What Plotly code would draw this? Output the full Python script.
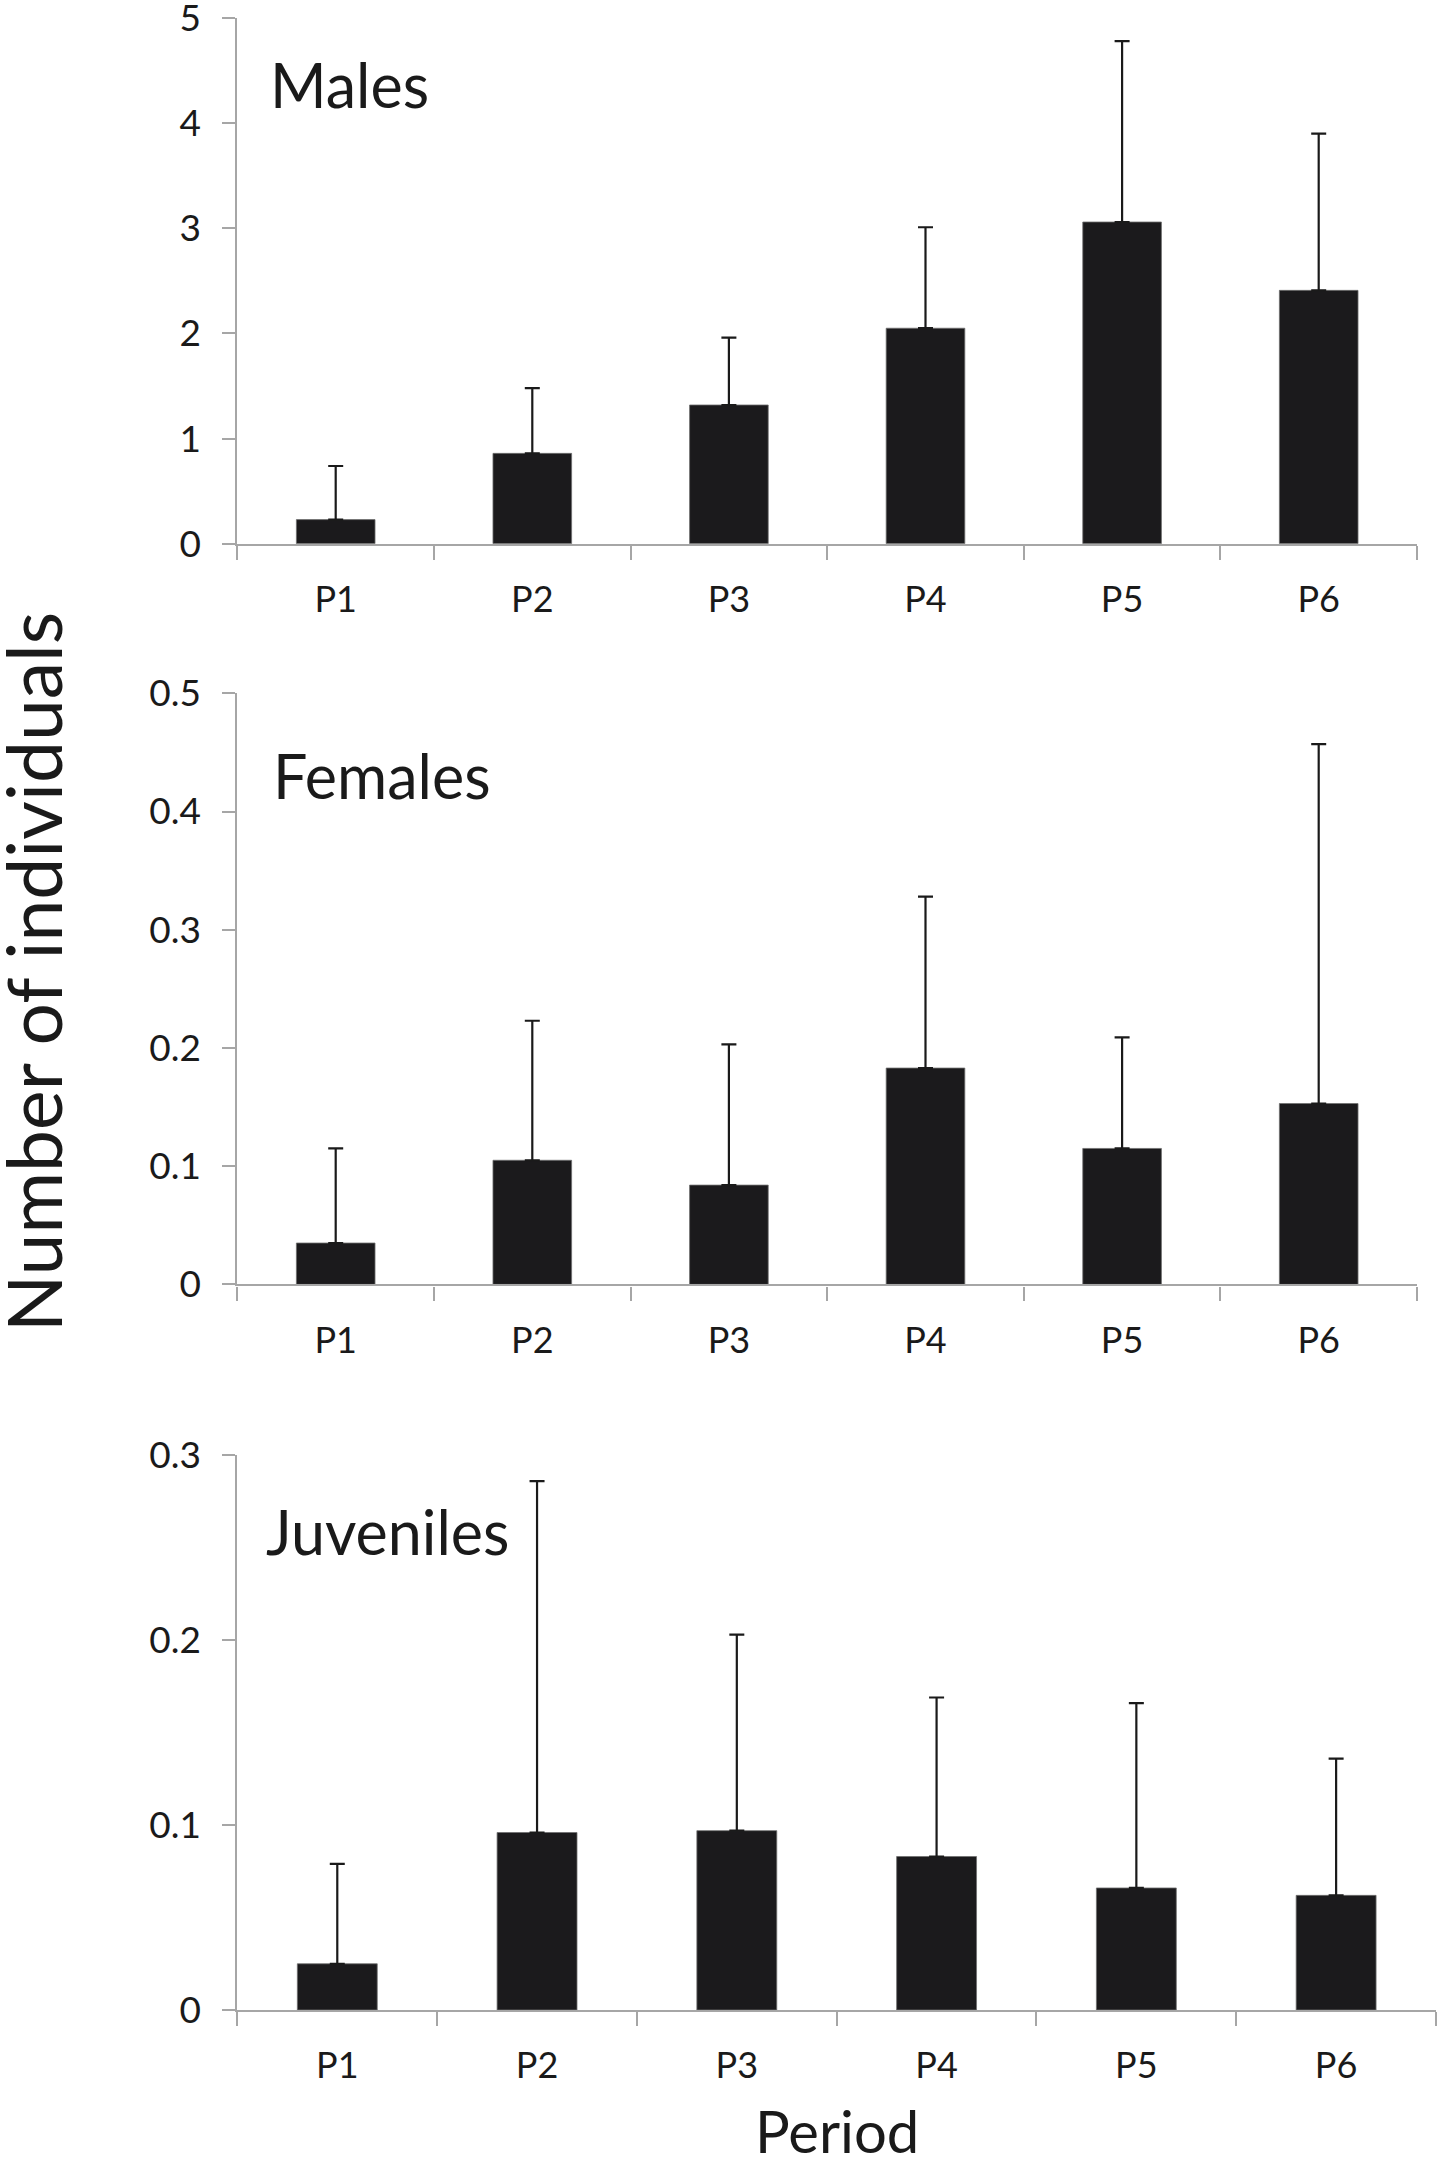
import plotly.graph_objects as go

W, H = 1440, 2167

periods = ["P1", "P2", "P3", "P4", "P5", "P6"]

males_mean = [0.23, 0.86, 1.32, 2.05, 3.06, 2.41]
males_err = [0.51, 0.62, 0.64, 0.96, 1.72, 1.49]

females_mean = [0.035, 0.105, 0.084, 0.183, 0.115, 0.153]
females_err = [0.080, 0.118, 0.119, 0.145, 0.094, 0.304]

juveniles_mean = [0.025, 0.096, 0.097, 0.083, 0.066, 0.062]
juveniles_err = [0.054, 0.190, 0.106, 0.086, 0.100, 0.074]

panel_names = ["Males", "Females", "Juveniles"]
y_max = [5, 0.5, 0.3]
y_dtick = [1, 0.1, 0.1]

# pixel layout of each plot area: (x_left, x_right, y_bottom, y_top)
areas = [
    (237.4, 1417.0, 543.8, 18.0),
    (237.4, 1417.0, 1284.4, 693.3),
    (237.4, 1436.0, 2010.0, 1455.3),
]
label_pos = [(268, 84), (271, 776), (264, 1531)]

def px_x(x):
    return x / W

def px_y(y):
    return 1 - y / H

means = [males_mean, females_mean, juveniles_mean]
errs = [males_err, females_err, juveniles_err]

fig = go.Figure()
FONT = "Lato, 'Open Sans', sans-serif"
TXT = "#1a1a1a"
AX = "#a6a6a6"

for i in range(3):
    xa = "x" if i == 0 else f"x{i+1}"
    ya = "y" if i == 0 else f"y{i+1}"
    fig.add_trace(go.Bar(
        x=periods, y=means[i], xaxis=xa, yaxis=ya,
        marker=dict(color="#1b1a1c", line=dict(color="#6e6e6e", width=0.8)),
        error_y=dict(type="data", array=errs[i], arrayminus=[0] * 6,
                     symmetric=False, color="#1a1a1a", thickness=2.2, width=7.5),
        showlegend=False,
    ))
    xl, xr, yb, yt = areas[i]
    xkey = "xaxis" if i == 0 else f"xaxis{i+1}"
    ykey = "yaxis" if i == 0 else f"yaxis{i+1}"
    fig.layout[xkey] = dict(
        domain=[px_x(xl), px_x(xr)], anchor=ya, type="category",
        automargin=False,
        showline=True, linecolor=AX, linewidth=2.2,
        ticks="outside", tickson="boundaries", ticklen=14, tickwidth=2, tickcolor=AX,
        showgrid=False, zeroline=False,
        tickfont=dict(family=FONT, size=36, color=TXT),
        ticklabelstandoff=23,
    )
    fig.layout[ykey] = dict(
        domain=[px_y(yb), px_y(yt)], anchor=xa, range=[0, y_max[i]],
        dtick=y_dtick[i], tick0=0, automargin=False,
        ticklabeloverflow="allow",
        showline=True, linecolor=AX, linewidth=2.2,
        ticks="outside", ticklen=13, tickwidth=2, tickcolor=AX,
        showgrid=False, zeroline=False,
        tickfont=dict(family=FONT, size=37, color=TXT),
        ticklabelstandoff=14,
    )
    lx, ly = label_pos[i]
    fig.add_annotation(
        x=px_x(lx), y=px_y(ly), xref="paper", yref="paper",
        xanchor="left", yanchor="middle", showarrow=False,
        text=panel_names[i], font=dict(family=FONT, size=61, color=TXT),
    )

fig.add_annotation(
    x=0, y=px_y(972), xref="paper", yref="paper", xshift=-14,
    xanchor="left", yanchor="middle", showarrow=False, textangle=-90,
    text="Number of individuals", font=dict(family=FONT, size=75, color=TXT),
)
fig.add_annotation(
    x=px_x(837), y=0, xref="paper", yref="paper",
    xanchor="center", yanchor="bottom", showarrow=False,
    text="Period", font=dict(family=FONT, size=58, color=TXT),
)

fig.update_layout(
    width=W, height=H, bargap=0.6,
    margin=dict(l=0, r=0, t=0, b=0),
    paper_bgcolor="white", plot_bgcolor="white",
)

fig.write_html("out.html", config={"displayModeBar": False},
               post_script="document.body.style.margin='0px';")
